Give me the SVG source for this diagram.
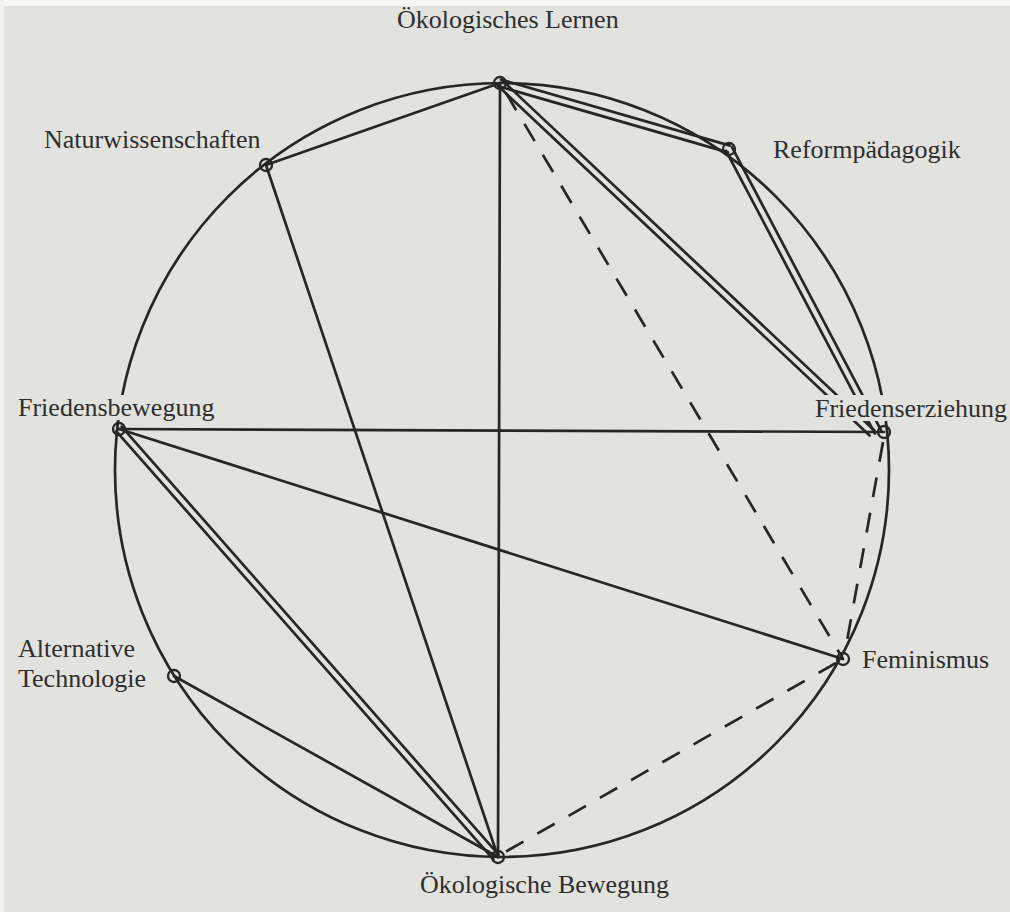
<svg xmlns="http://www.w3.org/2000/svg" width="1010" height="912" viewBox="0 0 1010 912">
<style>
.bg{fill:#e2e2df}
.ln{stroke:#262626;stroke-width:2.7;fill:none;stroke-linecap:round}
.dash{stroke-dasharray:20 16;stroke-linecap:butt}
.node{fill:none;stroke:#262626;stroke-width:2.3}
.lbl{font-family:"Liberation Serif","Times New Roman",serif;font-size:26px;fill:#2e2e2e}
</style>
<rect class="bg" x="0" y="0" width="1010" height="912"/>
<rect x="0" y="0" width="1010" height="6" fill="#f6f6f5"/>
<rect x="0" y="0" width="4" height="912" fill="#f2f2f1"/>
<circle id="ring" class="ln" cx="502" cy="470" r="387"/>
<g id="connectors">
  <line class="ln" x1="500" y1="83" x2="498" y2="857"/>
  <line class="ln" x1="119" y1="429" x2="884" y2="432"/>
  <line class="ln" x1="119" y1="429" x2="843" y2="659"/>
  <line class="ln" x1="266" y1="165" x2="498" y2="857"/>
  <line class="ln" x1="266" y1="165" x2="500" y2="83"/>
  <line class="ln" x1="174" y1="676" x2="498" y2="857"/>
  <line class="ln" x1="499.0" y1="86.4" x2="728.0" y2="152.4"/>
  <line class="ln" x1="501.0" y1="79.6" x2="730.0" y2="145.6"/>
  <line class="ln" x1="497.6" y1="85.5" x2="869.6" y2="435.5"/>
  <line class="ln" x1="502.4" y1="80.5" x2="874.4" y2="430.5"/>
  <line class="ln" x1="725.9" y1="150.6" x2="874.9" y2="433.6"/>
  <line class="ln" x1="732.1" y1="147.4" x2="881.1" y2="430.4"/>
  <line class="ln" x1="116.4" y1="431.3" x2="493.4" y2="859.3"/>
  <line class="ln" x1="121.6" y1="426.7" x2="498.6" y2="854.7"/>
  <line class="ln dash" x1="506" y1="93" x2="843" y2="659"/>
  <line class="ln dash" x1="883" y1="442" x2="845" y2="652"/>
  <line class="ln dash" x1="836" y1="663" x2="500" y2="855"/>
</g>
<rect x="810" y="395" width="200" height="26" class="bg"/>
<rect x="14" y="395" width="210" height="25" class="bg"/>
<g id="n-oekolernen"><circle class="node" cx="500" cy="83" r="6"/><text class="lbl" x="397" y="28">Ökologisches Lernen</text></g>
<g id="n-reform"><circle class="node" cx="729" cy="149" r="6"/><text class="lbl" x="773" y="158">Reformpädagogik</text></g>
<g id="n-natur"><circle class="node" cx="266" cy="165" r="6"/><text class="lbl" x="44" y="148">Naturwissenschaften</text></g>
<g id="n-friedensbew"><circle class="node" cx="119" cy="429" r="6"/><text class="lbl" x="18" y="416">Friedensbewegung</text></g>
<g id="n-friedenserz"><circle class="node" cx="884" cy="432" r="6"/><text class="lbl" x="815" y="417">Friedenserziehung</text></g>
<g id="n-feminismus"><circle class="node" cx="843" cy="659" r="6"/><text class="lbl" x="862" y="668">Feminismus</text></g>
<g id="n-alttech"><circle class="node" cx="174" cy="676" r="6"/><text class="lbl" x="18" y="657">Alternative</text><text class="lbl" x="18" y="687">Technologie</text></g>
<g id="n-oekobew"><circle class="node" cx="498" cy="857" r="6"/><text class="lbl" x="420" y="893">Ökologische Bewegung</text></g>
</svg>
